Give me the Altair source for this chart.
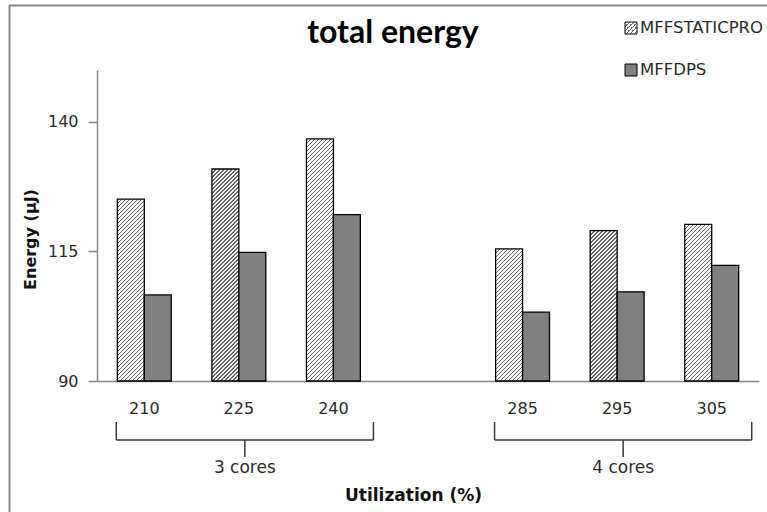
import altair as alt
import pandas as pd

# ---------------- data ----------------
categories = ["210", "225", "240", " ", "285", "295", "305"]   # " " = empty gap slot
bar_cats = ["210", "225", "240", "285", "295", "305"]
series = ["MFFSTATICPRO", "MFFDPS"]
static_vals = [125.1, 130.9, 136.7, 115.5, 119.0, 120.2]
dps_vals = [106.6, 114.8, 122.1, 103.3, 107.2, 112.3]
groups = ["3 cores", "4 cores"]
group_first = ["210", "285"]
group_mid = ["225", "295"]
group_last = ["240", "305"]
y_ticks = [90, 115, 140]
y_domain = [90, 150]

# ---------------- layout ----------------
W, H = 662, 311
PAD = {"left": 97, "top": 70, "right": 8, "bottom": 131}
P_INNER = 0.43
FONT = "DejaVu Sans"
TXT = "#2b2b2b"
AX = "#868686"

bar_w = (W / len(categories)) * (1 - P_INNER) / 2


def hatch(w, h, period=4.0, lw=1.25, line="#6a6a6a", bg="#ffffff"):
    """Diagonal '/' hatch as a linear gradient in bounding-box units."""
    r = h / w
    gx = (1 + r) / (1 + r * r)
    gy = r * gx
    L = w + h
    stops = []
    k = 0
    while k * period < L:
        a = k * period / L
        b = min((k * period + lw) / L, 1.0)
        c = min((k + 1) * period / L, 1.0)
        stops += [
            {"offset": a, "color": line},
            {"offset": b, "color": line},
            {"offset": b, "color": bg},
            {"offset": c, "color": bg},
        ]
        k += 1
    return {"gradient": "linear", "x1": 0, "y1": 0, "x2": gx, "y2": gy, "stops": stops}


rows = []
for c, sv, dv in zip(bar_cats, static_vals, dps_vals):
    h = (sv - y_domain[0]) * H / (y_domain[1] - y_domain[0])
    rows.append({"cat": c, "series": series[0], "energy": sv, "paint": hatch(bar_w, h)})
    rows.append({"cat": c, "series": series[1], "energy": dv, "paint": "#808080"})
bar_data = alt.Data(values=rows)

brace_df = pd.DataFrame({"group": groups, "first": group_first, "mid": group_mid, "last": group_last})
one = pd.DataFrame({"k": [0]})

x_title = "Utilization (%)"
x_scale = alt.Scale(domain=categories, paddingInner=P_INNER, paddingOuter=P_INNER / 2)

bars = alt.Chart(bar_data).mark_bar(stroke="black", strokeWidth=1.3).encode(
    x=alt.X("cat:N", scale=x_scale, sort=categories, title=x_title,
            axis=alt.Axis(labelAngle=0, ticks=False, domainColor=AX, domainWidth=1.5,
                          labelFont=FONT, labelFontSize=16, labelColor=TXT,
                          labelPadding=27, labelBaseline="middle",
                          titleFont=FONT, titleFontSize=17, titleFontWeight="bold",
                          titleColor="#111", titleX=316, titleY=114, titleBaseline="middle")),
    xOffset=alt.XOffset("series:N", sort=series,
                        scale=alt.Scale(domain=series, paddingInner=0, paddingOuter=0)),
    y=alt.Y("energy:Q", scale=alt.Scale(domain=y_domain, nice=False, zero=False),
            title="Energy (μJ)",
            axis=alt.Axis(values=y_ticks, grid=False, domainColor=AX, domainWidth=1.5,
                          tickColor=AX, tickSize=9, tickWidth=1.5,
                          labelFont=FONT, labelFontSize=16, labelColor=TXT, labelPadding=10,
                          titleFont=FONT, titleFontSize=16, titleFontWeight="bold",
                          titleColor="#111", titleX=-67, titleY=169, titleAngle=-90,
                          titleBaseline="middle")),
    y2=alt.datum(y_domain[0]),
    fill=alt.Fill("paint:N", scale=None),
)

BR = "#3a3a3a"
brace_h = alt.Chart(brace_df).mark_rule(color=BR, strokeWidth=1.5, xOffset=-28, x2Offset=40).encode(
    x=alt.X("first:N", title=x_title), x2="last:N", y=alt.value(370))
brace_l = alt.Chart(brace_df).mark_rule(color=BR, strokeWidth=1.5, xOffset=-28).encode(
    x=alt.X("first:N", title=x_title), y=alt.value(352), y2=alt.value(370))
brace_r = alt.Chart(brace_df).mark_rule(color=BR, strokeWidth=1.5, xOffset=40).encode(
    x=alt.X("last:N", title=x_title), y=alt.value(352), y2=alt.value(370))
brace_m = alt.Chart(brace_df).mark_rule(color=BR, strokeWidth=1.5, xOffset=6).encode(
    x=alt.X("mid:N", title=x_title), y=alt.value(370), y2=alt.value(387))
brace_t = alt.Chart(brace_df).mark_text(font=FONT, fontSize=17, color=TXT, dx=6,
                                        baseline="middle", align="center").encode(
    x=alt.X("mid:N", title=x_title), y=alt.value(398), text="group:N")

title = alt.Chart(one).mark_text(text="total energy", font="Lato", fontSize=32, fontWeight="bold",
                                 color="#000", align="center", baseline="alphabetic").encode(
    x=alt.value(296), y=alt.value(-27))

leg_sw1 = alt.Chart(one).mark_rect(stroke="black", strokeWidth=1).encode(
    x=alt.value(528), x2=alt.value(540), y=alt.value(-48), y2=alt.value(-36),
    fill=alt.value(hatch(12, 12)))
leg_sw2 = alt.Chart(one).mark_rect(stroke="black", strokeWidth=1).encode(
    x=alt.value(528), x2=alt.value(540), y=alt.value(-6), y2=alt.value(6),
    fill=alt.value("#808080"))
leg_t1 = alt.Chart(one).mark_text(text=series[0], font=FONT, fontSize=16.5, color=TXT,
                                  align="left", baseline="middle").encode(
    x=alt.value(543), y=alt.value(-42))
leg_t2 = alt.Chart(one).mark_text(text=series[1], font=FONT, fontSize=16.5, color=TXT,
                                  align="left", baseline="middle").encode(
    x=alt.value(543), y=alt.value(0))

border_top = alt.Chart(one).mark_rule(color="#8a8a8a", strokeWidth=2).encode(
    x=alt.value(-88), x2=alt.value(720), y=alt.value(-64.5))
border_left = alt.Chart(one).mark_rule(color="#8a8a8a", strokeWidth=2).encode(
    x=alt.value(-87.5), y=alt.value(-65), y2=alt.value(460))

chart = alt.layer(
    border_top, border_left, bars, brace_h, brace_l, brace_r, brace_m, brace_t,
    title, leg_sw1, leg_sw2, leg_t1, leg_t2,
).properties(
    width=W, height=H, padding=PAD,
    autosize=alt.AutoSizeParams(type="none"),
    background="white",
).configure_view(stroke=None)

chart.save("out.html", embed_options={"renderer": "svg", "actions": False})
